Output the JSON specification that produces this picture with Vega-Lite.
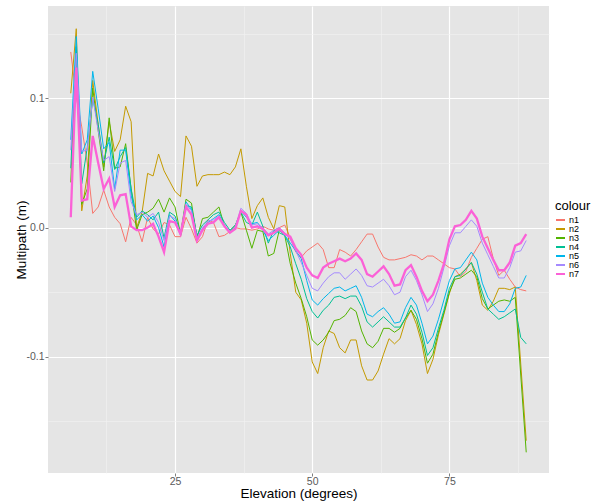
{
"$schema": "https://vega.github.io/schema/vega-lite/v6.json",
"width": 501,
"height": 467,
"autosize": {"type": "none"},
"padding": {"left": 48, "top": 6, "right": 55, "bottom": 29},
"background": "white",
"config": {"view": {"fill": "#E5E5E5", "stroke": null}, "font": "Liberation Sans"},
"data": {"values": [
{"e":6,"n1":0.136,"n2":0.104,"n3":0.035,"n4":0.046,"n5":0.068,"n6":0.060,"n7":0.008},
{"e":7,"n1":0.101,"n2":0.154,"n3":0.140,"n4":0.140,"n5":0.148,"n6":0.135,"n7":0.124},
{"e":8,"n1":0.078,"n2":0.013,"n3":0.018,"n4":0.034,"n5":0.057,"n6":0.059,"n7":0.021},
{"e":9,"n1":0.050,"n2":0.040,"n3":0.030,"n4":0.062,"n5":0.068,"n6":0.060,"n7":0.022},
{"e":10,"n1":0.011,"n2":0.114,"n3":0.108,"n4":0.100,"n5":0.121,"n6":0.101,"n7":0.071},
{"e":11,"n1":0.016,"n2":0.080,"n3":0.075,"n4":0.080,"n5":0.092,"n6":0.075,"n7":0.050},
{"e":12,"n1":0.029,"n2":0.047,"n3":0.044,"n4":0.050,"n5":0.061,"n6":0.052,"n7":0.030},
{"e":13,"n1":0.016,"n2":0.082,"n3":0.085,"n4":0.070,"n5":0.066,"n6":0.055,"n7":0.038},
{"e":14,"n1":0.008,"n2":0.059,"n3":0.046,"n4":0.045,"n5":0.030,"n6":0.028,"n7":0.016},
{"e":15,"n1":0.003,"n2":0.068,"n3":0.047,"n4":0.055,"n5":0.060,"n6":0.050,"n7":0.025},
{"e":16,"n1":-0.011,"n2":0.094,"n3":0.065,"n4":0.062,"n5":0.060,"n6":0.052,"n7":0.026},
{"e":17,"n1":0.008,"n2":0.082,"n3":0.030,"n4":0.030,"n5":0.025,"n6":0.020,"n7":0.001},
{"e":18,"n1":0.002,"n2":0.000,"n3":-0.002,"n4":0.008,"n5":0.006,"n6":0.010,"n7":-0.002},
{"e":19,"n1":-0.011,"n2":0.012,"n3":0.010,"n4":0.013,"n5":0.010,"n6":0.012,"n7":-0.002},
{"e":20,"n1":0.008,"n2":0.042,"n3":0.012,"n4":0.010,"n5":0.005,"n6":0.008,"n7":0.000},
{"e":21,"n1":-0.001,"n2":0.040,"n3":0.015,"n4":0.006,"n5":0.009,"n6":0.011,"n7":0.003},
{"e":22,"n1":-0.005,"n2":0.057,"n3":0.022,"n4":0.012,"n5":0.000,"n6":0.004,"n7":-0.007},
{"e":23,"n1":0.004,"n2":0.044,"n3":0.012,"n4":-0.008,"n5":-0.015,"n6":-0.010,"n7":-0.019},
{"e":24,"n1":0.002,"n2":0.036,"n3":0.023,"n4":0.012,"n5":0.010,"n6":0.009,"n7":0.005},
{"e":25,"n1":-0.007,"n2":0.028,"n3":0.016,"n4":0.009,"n5":0.005,"n6":0.007,"n7":0.004},
{"e":26,"n1":-0.007,"n2":0.024,"n3":-0.005,"n4":-0.004,"n5":-0.006,"n6":-0.005,"n7":-0.005},
{"e":27,"n1":0.008,"n2":0.071,"n3":0.022,"n4":0.017,"n5":0.020,"n6":0.018,"n7":0.016},
{"e":28,"n1":-0.001,"n2":0.063,"n3":0.019,"n4":0.016,"n5":0.014,"n6":0.013,"n7":0.010},
{"e":29,"n1":-0.012,"n2":0.032,"n3":-0.008,"n4":-0.006,"n5":-0.010,"n6":-0.008,"n7":-0.010},
{"e":30,"n1":-0.007,"n2":0.040,"n3":0.007,"n4":0.002,"n5":-0.001,"n6":0.000,"n7":-0.002},
{"e":31,"n1":0.006,"n2":0.041,"n3":0.008,"n4":0.006,"n5":0.004,"n6":0.005,"n7":0.003},
{"e":32,"n1":0.004,"n2":0.041,"n3":0.012,"n4":0.010,"n5":0.007,"n6":0.006,"n7":0.004},
{"e":33,"n1":-0.007,"n2":0.041,"n3":0.016,"n4":0.012,"n5":0.010,"n6":0.009,"n7":0.008},
{"e":34,"n1":-0.006,"n2":0.043,"n3":0.001,"n4":0.004,"n5":0.002,"n6":0.002,"n7":0.001},
{"e":35,"n1":-0.003,"n2":0.041,"n3":-0.003,"n4":-0.002,"n5":-0.004,"n6":-0.003,"n7":-0.004},
{"e":36,"n1":0.000,"n2":0.047,"n3":0.002,"n4":0.002,"n5":0.000,"n6":0.001,"n7":-0.001},
{"e":37,"n1":-0.001,"n2":0.061,"n3":0.012,"n4":0.012,"n5":0.013,"n6":0.015,"n7":0.013},
{"e":38,"n1":-0.001,"n2":0.032,"n3":-0.002,"n4":0.004,"n5":0.008,"n6":0.011,"n7":0.010},
{"e":39,"n1":-0.002,"n2":0.007,"n3":-0.016,"n4":0.002,"n5":0.003,"n6":0.002,"n7":0.000},
{"e":40,"n1":-0.001,"n2":0.017,"n3":-0.002,"n4":0.012,"n5":0.004,"n6":0.003,"n7":0.001},
{"e":41,"n1":0.001,"n2":0.023,"n3":-0.003,"n4":0.001,"n5":-0.002,"n6":0.000,"n7":-0.001},
{"e":42,"n1":-0.001,"n2":0.008,"n3":-0.022,"n4":-0.012,"n5":-0.010,"n6":-0.005,"n7":-0.006},
{"e":43,"n1":-0.002,"n2":-0.001,"n3":-0.020,"n4":-0.002,"n5":-0.006,"n6":-0.002,"n7":-0.004},
{"e":44,"n1":0.000,"n2":0.017,"n3":-0.002,"n4":-0.004,"n5":-0.002,"n6":0.000,"n7":-0.001},
{"e":45,"n1":0.002,"n2":0.016,"n3":-0.006,"n4":-0.006,"n5":-0.006,"n6":-0.004,"n7":-0.005},
{"e":46,"n1":-0.008,"n2":-0.020,"n3":-0.028,"n4":-0.015,"n5":-0.012,"n6":-0.009,"n7":-0.007},
{"e":47,"n1":-0.019,"n2":-0.050,"n3":-0.043,"n4":-0.028,"n5":-0.018,"n6":-0.018,"n7":-0.016},
{"e":48,"n1":-0.023,"n2":-0.056,"n3":-0.055,"n4":-0.040,"n5":-0.024,"n6":-0.027,"n7":-0.021},
{"e":49,"n1":-0.018,"n2":-0.074,"n3":-0.069,"n4":-0.055,"n5":-0.041,"n6":-0.037,"n7":-0.031},
{"e":50,"n1":-0.015,"n2":-0.104,"n3":-0.087,"n4":-0.065,"n5":-0.056,"n6":-0.047,"n7":-0.037},
{"e":51,"n1":-0.012,"n2":-0.113,"n3":-0.091,"n4":-0.070,"n5":-0.060,"n6":-0.049,"n7":-0.039},
{"e":52,"n1":-0.017,"n2":-0.093,"n3":-0.087,"n4":-0.064,"n5":-0.055,"n6":-0.043,"n7":-0.031},
{"e":53,"n1":-0.031,"n2":-0.080,"n3":-0.081,"n4":-0.060,"n5":-0.051,"n6":-0.038,"n7":-0.028},
{"e":54,"n1":-0.031,"n2":-0.082,"n3":-0.072,"n4":-0.054,"n5":-0.047,"n6":-0.035,"n7":-0.026},
{"e":55,"n1":-0.017,"n2":-0.093,"n3":-0.071,"n4":-0.053,"n5":-0.046,"n6":-0.035,"n7":-0.024},
{"e":56,"n1":-0.019,"n2":-0.097,"n3":-0.068,"n4":-0.055,"n5":-0.049,"n6":-0.040,"n7":-0.026},
{"e":57,"n1":-0.022,"n2":-0.087,"n3":-0.062,"n4":-0.053,"n5":-0.047,"n6":-0.036,"n7":-0.024},
{"e":58,"n1":-0.017,"n2":-0.087,"n3":-0.065,"n4":-0.053,"n5":-0.045,"n6":-0.032,"n7":-0.020},
{"e":59,"n1":-0.011,"n2":-0.107,"n3":-0.080,"n4":-0.061,"n5":-0.054,"n6":-0.037,"n7":-0.025},
{"e":60,"n1":-0.005,"n2":-0.118,"n3":-0.090,"n4":-0.073,"n5":-0.067,"n6":-0.045,"n7":-0.036},
{"e":61,"n1":-0.005,"n2":-0.118,"n3":-0.093,"n4":-0.077,"n5":-0.069,"n6":-0.046,"n7":-0.038},
{"e":62,"n1":-0.015,"n2":-0.111,"n3":-0.088,"n4":-0.073,"n5":-0.065,"n6":-0.043,"n7":-0.034},
{"e":63,"n1":-0.023,"n2":-0.098,"n3":-0.078,"n4":-0.069,"n5":-0.062,"n6":-0.040,"n7":-0.030},
{"e":64,"n1":-0.025,"n2":-0.086,"n3":-0.078,"n4":-0.073,"n5":-0.067,"n6":-0.045,"n7":-0.036},
{"e":65,"n1":-0.025,"n2":-0.090,"n3":-0.081,"n4":-0.077,"n5":-0.074,"n6":-0.052,"n7":-0.045},
{"e":66,"n1":-0.024,"n2":-0.086,"n3":-0.078,"n4":-0.077,"n5":-0.073,"n6":-0.050,"n7":-0.044},
{"e":67,"n1":-0.023,"n2":-0.072,"n3":-0.070,"n4":-0.070,"n5":-0.062,"n6":-0.038,"n7":-0.033},
{"e":68,"n1":-0.021,"n2":-0.064,"n3":-0.064,"n4":-0.060,"n5":-0.054,"n6":-0.033,"n7":-0.029},
{"e":69,"n1":-0.022,"n2":-0.075,"n3":-0.071,"n4":-0.067,"n5":-0.060,"n6":-0.041,"n7":-0.038},
{"e":70,"n1":-0.025,"n2":-0.090,"n3":-0.086,"n4":-0.081,"n5":-0.074,"n6":-0.052,"n7":-0.049},
{"e":71,"n1":-0.022,"n2":-0.113,"n3":-0.105,"n4":-0.099,"n5":-0.090,"n6":-0.065,"n7":-0.057},
{"e":72,"n1":-0.022,"n2":-0.102,"n3":-0.098,"n4":-0.093,"n5":-0.084,"n6":-0.059,"n7":-0.052},
{"e":73,"n1":-0.025,"n2":-0.083,"n3":-0.081,"n4":-0.078,"n5":-0.071,"n6":-0.047,"n7":-0.041},
{"e":74,"n1":-0.028,"n2":-0.067,"n3":-0.066,"n4":-0.064,"n5":-0.056,"n6":-0.031,"n7":-0.028},
{"e":75,"n1":-0.031,"n2":-0.051,"n3":-0.050,"n4":-0.047,"n5":-0.041,"n6":-0.014,"n7":-0.009},
{"e":76,"n1":-0.032,"n2":-0.038,"n3":-0.040,"n4":-0.038,"n5":-0.032,"n6":-0.004,"n7":0.001},
{"e":77,"n1":-0.038,"n2":-0.036,"n3":-0.039,"n4":-0.037,"n5":-0.031,"n6":-0.004,"n7":0.002},
{"e":78,"n1":-0.034,"n2":-0.032,"n3":-0.036,"n4":-0.032,"n5":-0.025,"n6":0.001,"n7":0.006},
{"e":79,"n1":-0.023,"n2":-0.027,"n3":-0.033,"n4":-0.027,"n5":-0.019,"n6":0.006,"n7":0.013},
{"e":80,"n1":-0.016,"n2":-0.041,"n3":-0.038,"n4":-0.036,"n5":-0.025,"n6":0.001,"n7":0.007},
{"e":81,"n1":-0.009,"n2":-0.060,"n3":-0.055,"n4":-0.050,"n5":-0.043,"n6":-0.012,"n7":-0.007},
{"e":82,"n1":-0.007,"n2":-0.064,"n3":-0.063,"n4":-0.063,"n5":-0.054,"n6":-0.021,"n7":-0.016},
{"e":83,"n1":-0.024,"n2":-0.057,"n3":-0.060,"n4":-0.067,"n5":-0.060,"n6":-0.030,"n7":-0.025},
{"e":84,"n1":-0.037,"n2":-0.047,"n3":-0.057,"n4":-0.071,"n5":-0.065,"n6":-0.039,"n7":-0.033},
{"e":85,"n1":-0.033,"n2":-0.047,"n3":-0.056,"n4":-0.069,"n5":-0.065,"n6":-0.039,"n7":-0.033},
{"e":86,"n1":-0.040,"n2":-0.048,"n3":-0.057,"n4":-0.066,"n5":-0.059,"n6":-0.031,"n7":-0.027},
{"e":87,"n1":-0.046,"n2":-0.046,"n3":-0.054,"n4":-0.063,"n5":-0.047,"n6":-0.019,"n7":-0.014},
{"e":88,"n1":-0.048,"n2":null,"n3":null,"n4":-0.085,"n5":-0.046,"n6":-0.018,"n7":-0.012},
{"e":89,"n1":-0.049,"n2":-0.165,"n3":-0.174,"n4":-0.090,"n5":-0.037,"n6":-0.010,"n7":-0.005}
]},
"transform": [
{"fold": ["n1","n2","n3","n4","n5","n6","n7"], "as": ["colour","v"]},
{"filter": "isValid(datum.v)"}
],
"mark": {"type": "line", "interpolate": "linear"},
"encoding": {
"x": {"field": "e", "type": "quantitative",
 "scale": {"domain": [1.85, 93.15], "nice": false, "zero": false},
 "axis": {"values": [12.5,25,37.5,50,62.5,75,87.5],
  "labelExpr": "datum.value % 25 === 0 ? format(datum.value, 'd') : ''",
  "gridColor": {"condition": {"test": "datum.value % 25 === 0", "value": "#FFFFFF"}, "value": "#F2F2F2"},
  "gridWidth": {"condition": {"test": "datum.value % 25 === 0", "value": 1.2}, "value": 0.6},
  "tickColor": {"condition": {"test": "datum.value % 25 === 0", "value": "#7F7F7F"}, "value": "rgba(0,0,0,0)"},
  "tickSize": 3, "domain": false,
  "labelFontSize": 10.5, "labelColor": "#5A5A5A", "labelPadding": 0,
  "title": "Elevation (degrees)", "titleFontSize": 13.5, "titleFontWeight": "normal", "titleColor": "#000000", "titlePadding": 0}},
"y": {"field": "v", "type": "quantitative",
 "scale": {"domain": [-0.190, 0.1716], "nice": false, "zero": false},
 "axis": {"values": [-0.15,-0.1,-0.05,0,0.05,0.1,0.15],
  "labelExpr": "abs(round(datum.value*100)) % 10 === 0 ? (datum.value < -0.001 ? '-' : '') + format(abs(datum.value), '.1f') : ''",
  "gridColor": {"condition": {"test": "abs(round(datum.value*100)) % 10 === 0", "value": "#FFFFFF"}, "value": "#F2F2F2"},
  "gridWidth": {"condition": {"test": "abs(round(datum.value*100)) % 10 === 0", "value": 1.2}, "value": 0.6},
  "tickColor": {"condition": {"test": "abs(round(datum.value*100)) % 10 === 0", "value": "#7F7F7F"}, "value": "rgba(0,0,0,0)"},
  "tickSize": 3, "domain": false,
  "labelFontSize": 10.5, "labelColor": "#5A5A5A", "labelPadding": 1,
  "title": "Multipath (m)", "titleFontSize": 13.5, "titleFontWeight": "normal", "titleColor": "#000000",
  "titleX": -23, "titleY": 233.5, "titleAngle": -90, "titleAlign": "center", "titleBaseline": "alphabetic"}},
"color": {"field": "colour", "type": "nominal",
 "scale": {"domain": ["n1","n2","n3","n4","n5","n6","n7"], "range": ["#F8766D","#C49A00","#53B400","#00C094","#00B6EB","#A58AFF","#FB61D7"]},
 "legend": {"title": "colour", "orient": "none", "legendX": 507, "legendY": 194,
  "titleFontSize": 13, "titleFontWeight": "normal", "titleColor": "#000000", "titlePadding": 3,
  "labelFontSize": 9, "labelColor": "#000000", "labelOffset": 3,
  "symbolType": "stroke", "symbolSize": 81, "symbolStrokeWidth": 2,
  "clipHeight": 8, "rowPadding": 0}},
"strokeWidth": {"condition": {"test": "datum.colour === 'n7'", "value": 2.3}, "value": 1}
}
}
